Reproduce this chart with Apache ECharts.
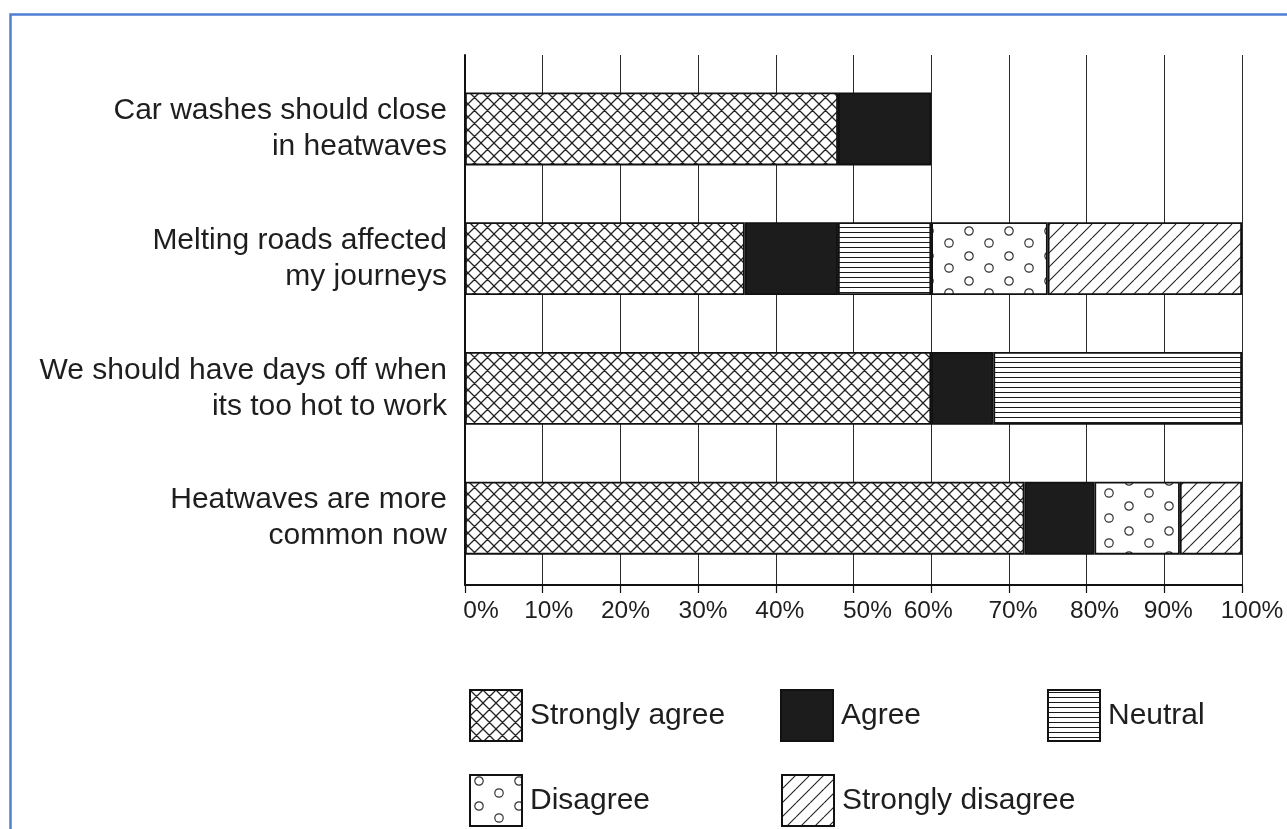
<!DOCTYPE html>
<html>
<head>
<meta charset="utf-8">
<script src="https://cdn.jsdelivr.net/npm/echarts@6/dist/echarts.min.js"></script>
<style>
html,body{margin:0;padding:0;background:#fff;}
#chart{width:1287px;height:829px;}
</style>
</head>
<body>
<div id="chart"></div>
<script>
// ---- data ----
const categories = [
  'Car washes should close\nin heatwaves',
  'Melting roads affected\nmy journeys',
  'We should have days off when\nits too hot to work',
  'Heatwaves are more\ncommon now'
];
const seriesNames = ['Strongly agree', 'Agree', 'Neutral', 'Disagree', 'Strongly disagree'];
const stronglyAgree = [48, 36, 60, 72];
const agree = [12, 12, 8, 9];
const neutral = [null, 12, 32, null];
const disagree = [null, 15, null, 11];
const stronglyDisagree = [null, 25, null, 8];
const xTickLabels = ['0%','10%','20%','30%','40%','50%','60%','70%','80%','90%','100%'];

// ---- patterns ----
function tile(w, h, draw) {
  const c = document.createElement('canvas');
  c.width = w; c.height = h;
  const ctx = c.getContext('2d');
  ctx.fillStyle = '#ffffff';
  ctx.fillRect(0, 0, w, h);
  draw(ctx, w, h);
  return { image: c, repeat: 'repeat' };
}
const crossPat = tile(13, 13, (ctx, w, h) => {
  ctx.strokeStyle = '#222'; ctx.lineWidth = 1.3;
  ctx.beginPath();
  for (const o of [-w, 0, w]) {
    ctx.moveTo(o, 0); ctx.lineTo(o + w, h);
    ctx.moveTo(o + w, 0); ctx.lineTo(o, h);
  }
  ctx.stroke();
});
const hLinePat = tile(10, 5, (ctx, w, h) => {
  ctx.fillStyle = '#1a1a1a'; ctx.fillRect(0, 2, w, 1);
});
const dotPat = tile(40, 25, (ctx) => {
  ctx.strokeStyle = '#333'; ctx.lineWidth = 1.2;
  [[9, 6], [29, 18]].forEach(p => {
    ctx.beginPath(); ctx.arc(p[0], p[1], 4.2, 0, Math.PI * 2); ctx.stroke();
  });
});
const diagPat = tile(14, 14, (ctx, w, h) => {
  ctx.strokeStyle = '#222'; ctx.lineWidth = 1.1;
  ctx.beginPath();
  for (const o of [-w, 0, w]) { ctx.moveTo(o, h); ctx.lineTo(o + w, 0); }
  ctx.stroke();
});
const fills = [crossPat, '#1c1c1c', hLinePat, dotPat, diagPat];
const values = [stronglyAgree, agree, neutral, disagree, stronglyDisagree];

const textColor = '#1e1e1e';
const fontFamily = '"Liberation Sans", Arial, sans-serif';

// small per-label horizontal nudges for tick labels (styling)
const tickNudge = {0: 16, 10: 6, 20: 5, 30: 5, 40: 4, 50: 14, 60: -3, 70: 4, 80: 8, 90: 4, 100: 10};
const rich = {};
Object.keys(tickNudge).forEach(k => {
  const o = tickNudge[k];
  rich['t' + k] = {
    fontSize: 24.5, color: textColor, fontFamily: fontFamily,
    padding: o >= 0 ? [0, 0, 0, 2 * o] : [0, -2 * o, 0, 0]
  };
});

const legendPos = [[469, 689], [780, 689], [1047, 689], [469, 774], [781, 774]];

const option = {
  animation: false,
  backgroundColor: '#ffffff',
  textStyle: { fontFamily: fontFamily },
  graphic: [{
    type: 'rect', z: -10, silent: true,
    shape: { x: 10.5, y: 14.5, width: 1400, height: 1000 },
    style: { fill: 'none', stroke: '#4f7fd3', lineWidth: 2.5 }
  }],
  grid: [
    { left: 465, right: 45, top: 55, bottom: 244 },
    { left: 465, right: 45, top: 64, bottom: 246 }
  ],
  xAxis: [
    {
      gridIndex: 0, type: 'value', min: 0, max: 100, interval: 10,
      axisLine: { show: true, lineStyle: { color: '#111', width: 2 } },
      axisTick: { show: true, length: 8, lineStyle: { color: '#111', width: 1.2 } },
      splitLine: { show: true, lineStyle: { color: '#2a2a2a', width: 1 } },
      axisLabel: {
        margin: 14,
        formatter: function (v) {
          const i = Math.round(v / 10);
          return '{t' + v + '|' + xTickLabels[i] + '}';
        },
        rich: rich
      }
    },
    { gridIndex: 1, type: 'value', min: 0, max: 100, show: false }
  ],
  yAxis: [
    {
      gridIndex: 0, type: 'category', data: categories,
      axisLine: { show: true, lineStyle: { color: '#111', width: 2 } },
      axisTick: { show: false }, axisLabel: { show: false }, splitLine: { show: false }
    },
    {
      gridIndex: 1, type: 'category', data: categories, inverse: true,
      axisLine: { show: false }, axisTick: { show: false }, splitLine: { show: false },
      axisLabel: {
        fontSize: 30, lineHeight: 36, color: textColor, margin: 18,
        align: 'right', fontFamily: fontFamily
      }
    }
  ],
  legend: seriesNames.map((n, i) => ({
    data: [n], left: legendPos[i][0], top: legendPos[i][1],
    orient: 'horizontal', padding: 0, icon: 'rect',
    itemWidth: 52, itemHeight: 51, selectedMode: false,
    textStyle: { fontSize: 30, color: textColor, fontFamily: fontFamily, padding: [0, 0, 0, 3] }
  })),
  series: seriesNames.map((n, i) => ({
    name: n, type: 'bar', stack: 'total',
    xAxisIndex: 1, yAxisIndex: 1, barWidth: 73,
    data: values[i],
    itemStyle: { color: fills[i], borderColor: '#111', borderWidth: 1.8 },
    emphasis: { disabled: true }
  }))
};

const chart = echarts.init(document.getElementById('chart'), null, { renderer: 'canvas' });
chart.setOption(option);
</script>
</body>
</html>
